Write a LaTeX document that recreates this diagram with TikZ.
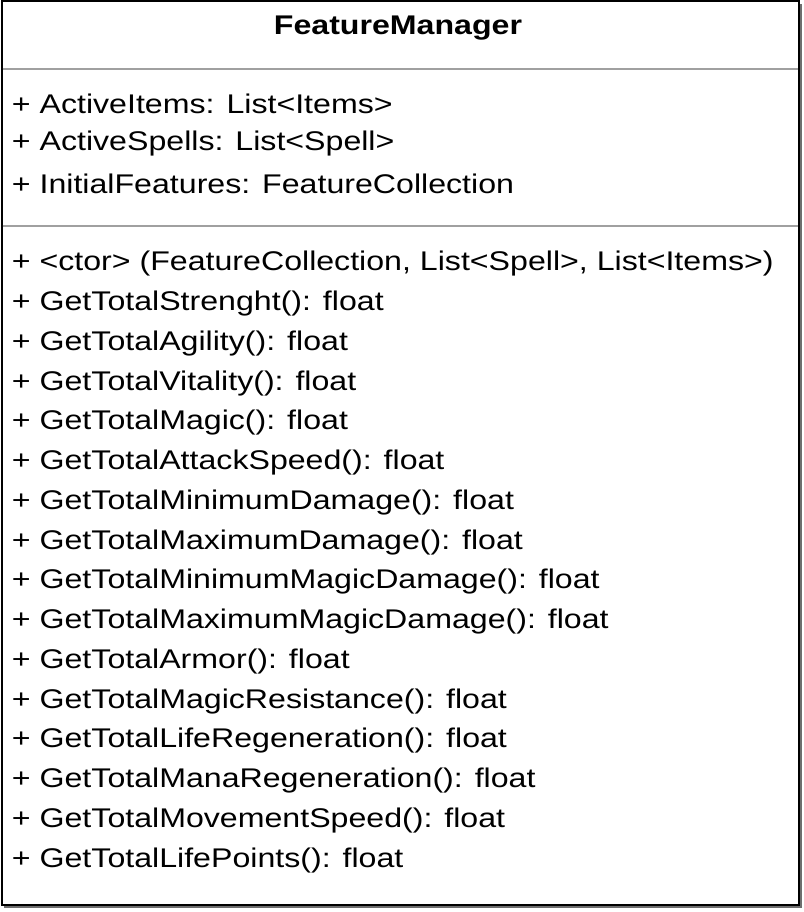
\documentclass[tikz,border=0pt]{standalone}
\usepackage{fontspec}
\setmainfont{Liberation Sans}[FakeStretch=1.19]
\usetikzlibrary{positioning}

\tikzset{
  member/.style={anchor=west,inner sep=0.75pt,font=\fontsize{27}{30}\selectfont},
  sepline/.style={draw={rgb,255:red,160;green,160;blue,160},line width=2pt},
}

\begin{document}
\begin{tikzpicture}[x=1pt,y=1pt,yscale=-1,xscale=1]
\useasboundingbox (0,0) rectangle (803,912);

%Shape: Rectangle [id:shadow]
\fill [color={rgb,255:red,110;green,110;blue,110}] (4,4) rectangle (802,908);
%Shape: Rectangle [id:classbox]
\draw [line width=2pt,fill=white] (1.5,1.5) rectangle (799,905);

% Text Node
\node (title) at (398,28) [inner sep=0.75pt,font=\fontsize{27}{30}\selectfont\bfseries] {FeatureManager};

%Straight Lines [id:sep1]
\coordinate (s1a) at (2.5,69);
\coordinate (s1b) at (798,69);
\draw [sepline] (s1a) -- (s1b);
%Straight Lines [id:sep2]
\coordinate (s2a) at (2.5,226);
\coordinate (s2b) at (798,226);
\draw [sepline] (s2a) -- (s2b);

% Text Node
\node (attr1) at (11,104) [member] {+ ActiveItems: List<Items>};
\node (attr2) at (11,144) [member] {+ ActiveSpells: List<Spell>};
\node (attr3) at (11,184) [member] {+ InitialFeatures: FeatureCollection};

% Text Node
\node (ctor) at (11,264) [member] {+ <ctor> (FeatureCollection, List<Spell>, List<Items>)};
\foreach \m [count=\i] in {Strenght,Agility,Vitality,Magic,AttackSpeed,MinimumDamage,MaximumDamage,MinimumMagicDamage,MaximumMagicDamage,Armor,MagicResistance,LifeRegeneration,ManaRegeneration,MovementSpeed,LifePoints}
  \node (meth\i) at (11,{264+39.75*\i}) [member] {+ GetTotal\m(): float};

\end{tikzpicture}
\end{document}
